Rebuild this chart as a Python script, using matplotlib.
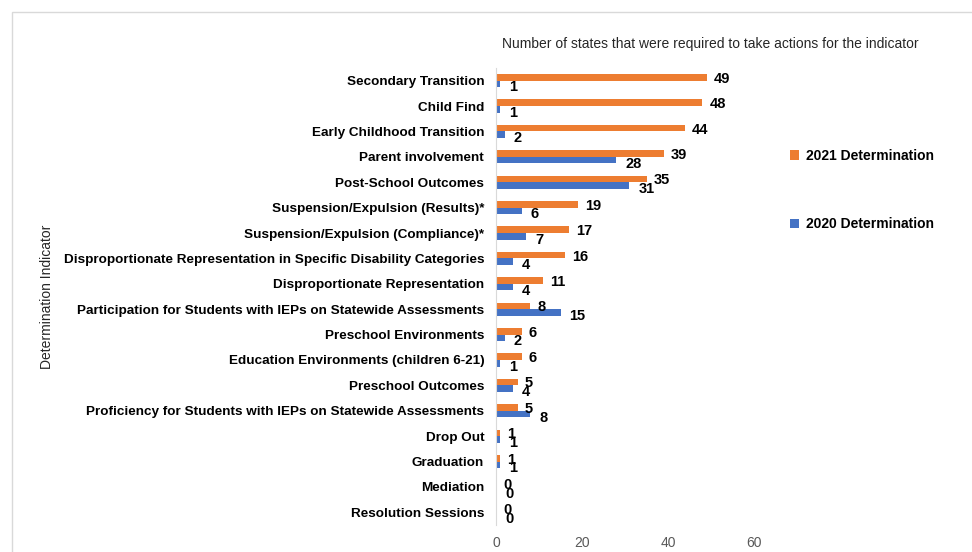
import numpy as np
import matplotlib.pyplot as plt
import matplotlib.patches as patches

# category names, top to bottom as in the chart
categories = [
    "Secondary Transition",
    "Child Find",
    "Early Childhood Transition",
    "Parent involvement",
    "Post-School Outcomes",
    "Suspension/Expulsion (Results)*",
    "Suspension/Expulsion (Compliance)*",
    "Disproportionate Representation in Specific Disability Categories",
    "Disproportionate Representation",
    "Participation for Students with IEPs on Statewide Assessments",
    "Preschool Environments",
    "Education Environments (children 6-21)",
    "Preschool Outcomes",
    "Proficiency for Students with IEPs on Statewide Assessments",
    "Drop Out",
    "Graduation",
    "Mediation",
    "Resolution Sessions",
]
det_2021 = [49, 48, 44, 39, 35, 19, 17, 16, 11, 8, 6, 6, 5, 5, 1, 1, 0, 0]
det_2020 = [1, 1, 2, 28, 31, 6, 7, 4, 4, 15, 2, 1, 4, 8, 1, 1, 0, 0]
x_ticks = [0, 20, 40, 60]

ORANGE = '#ED7D31'
BLUE = '#4472C4'

plt.rcParams['font.family'] = ['Liberation Sans', 'DejaVu Sans']

fig = plt.figure(figsize=(9.72, 5.52), dpi=100)
ax = fig.add_axes([496 / 972, 1 - 525 / 552, (754 - 496) / 972, (525 - 68) / 552])

# outer chart border like the Excel chart area
fig.patches.append(patches.Rectangle((12 / 972, -0.05), 1.0, 0.978 + 0.05,
                                     transform=fig.transFigure, fill=False,
                                     edgecolor='#d9d9d9', linewidth=1))

y = np.arange(len(categories))
h = 0.26
b21 = ax.barh(y - h / 2, det_2021, height=h, color=ORANGE, label='2021 Determination')
b20 = ax.barh(y + h / 2, det_2020, height=h, color=BLUE, label='2020 Determination')

for yi, v in zip(y, det_2021):
    ax.annotate(str(v), (v, yi - h / 2), xytext=(5, -1), textcoords='offset points',
                ha='left', va='center', fontsize=10.5, fontweight='bold', color='black')
for yi, v in zip(y, det_2020):
    ax.annotate(str(v), (v, yi + h / 2), xytext=(6.5, -2.5), textcoords='offset points',
                ha='left', va='center', fontsize=10.5, fontweight='bold', color='black')

ax.set_ylim(len(categories) - 0.5, -0.5)
ax.set_xlim(0, 60)
ax.set_yticks(y)
ax.set_yticklabels(categories, fontsize=9.7, fontweight='bold')
ax.set_xticks(x_ticks)
ax.tick_params(axis='both', length=0)
ax.tick_params(axis='y', pad=8.5)
ax.tick_params(axis='x', colors='#595959', labelsize=10, pad=8)
for s in ['top', 'right', 'bottom']:
    ax.spines[s].set_visible(False)
ax.spines['left'].set_color('#d9d9d9')

fig.text(502 / 972, 1 - 44 / 552,
         "Number of states that were required to take actions for the indicator",
         fontsize=10, ha='left', va='center', color='#262626')
fig.text(47 / 972, 1 - 297 / 552, "Determination Indicator", rotation=90,
         fontsize=10, ha='center', va='center', color='#262626')

leg = fig.legend(handles=[b21, b20], loc='upper left',
                 bbox_to_anchor=(777 / 972, 1 - 136 / 552), frameon=False,
                 handlelength=0.7, handleheight=0.7, handletextpad=0.5,
                 labelspacing=3.95, prop={'size': 10, 'weight': 'bold'})

fig.savefig('out.png', dpi=100)
